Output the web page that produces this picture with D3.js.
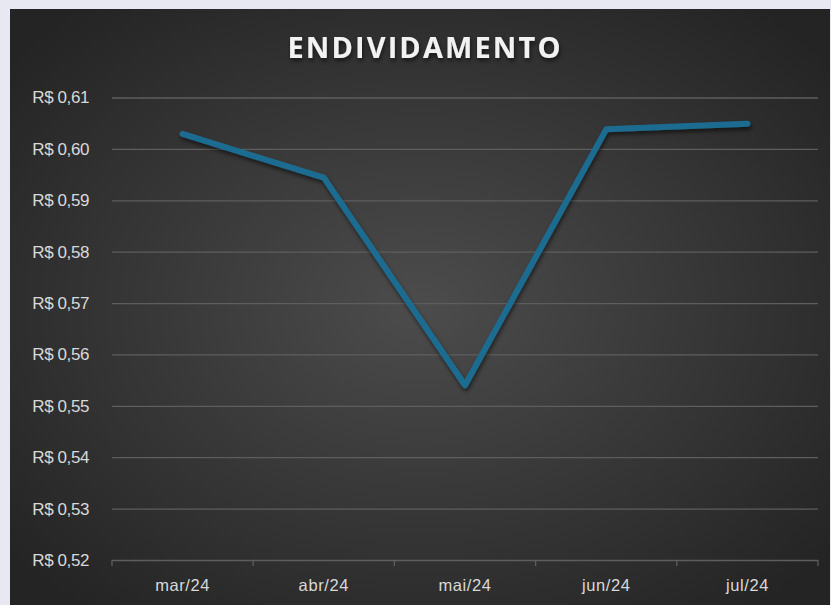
<!DOCTYPE html>
<html>
<head>
<meta charset="utf-8">
<script src="https://cdn.jsdelivr.net/npm/d3@7"></script>
<style>
  html, body { margin: 0; padding: 0; background: #e8e8f3; }
  svg { display: block; }
</style>
</head>
<body>
<div id="chart"></div>
<script>
// dados do gráfico
const meses = ["mar/24", "abr/24", "mai/24", "jun/24", "jul/24"];
const endividamento = [0.6029, 0.5944, 0.5540, 0.6038, 0.6049];
const yTicks = [0.52, 0.53, 0.54, 0.55, 0.56, 0.57, 0.58, 0.59, 0.60, 0.61];

const width = 831;
const height = 605;
const plotLeft = 112, plotRight = 818, plotTop = 97.5, plotBottom = 560;

const svg = d3.select("#chart")
  .append("svg")
  .attr("width", width)
  .attr("height", height);

const defs = svg.append("defs");
const grad = defs.append("radialGradient")
  .attr("id", "bg")
  .attr("cx", "50%").attr("cy", "50%").attr("r", "65%");
grad.append("stop").attr("offset", "0%").attr("stop-color", "#4c4c4c");
grad.append("stop").attr("offset", "100%").attr("stop-color", "#242424");

const shadow = defs.append("filter").attr("id", "sombra")
  .attr("x", "-10%").attr("y", "-10%").attr("width", "120%").attr("height", "130%");
shadow.append("feDropShadow")
  .attr("dx", 1).attr("dy", 3).attr("stdDeviation", 2)
  .attr("flood-color", "#000").attr("flood-opacity", 0.55);

// fundo do gráfico
svg.append("rect")
  .attr("x", 10).attr("y", 9)
  .attr("width", 820).attr("height", height - 9)
  .attr("fill", "url(#bg)");

// Escala X
const xScale = d3.scaleBand()
  .domain(meses)
  .range([plotLeft, plotRight]);

// Escala Y
const yScale = d3.scaleLinear()
  .domain([0.52, 0.61])
  .range([plotBottom, plotTop]);

const fmt = (v) => "R$ " + v.toFixed(2).replace(".", ",");

// linhas de grade + eixo Y
const yAxis = svg.append("g")
  .attr("transform", `translate(${plotLeft},0)`)
  .call(d3.axisLeft(yScale).tickValues(yTicks).tickFormat(fmt).tickSize(-(plotRight - plotLeft)).tickPadding(23));
yAxis.select(".domain").remove();
yAxis.selectAll(".tick line")
  .attr("stroke", "#5e5e5e")
  .attr("stroke-width", 1.3);
yAxis.selectAll(".tick text")
  .attr("fill", "#d9d9d9")
  .style("font-family", "'Liberation Sans', Arial, sans-serif")
  .style("font-size", "17px")
  .style("letter-spacing", "-0.4px");

// eixo X
const xAxis = svg.append("g")
  .attr("transform", `translate(0,${plotBottom})`)
  .call(d3.axisBottom(xScale).tickSize(0).tickPadding(19));
xAxis.select(".domain").remove();
xAxis.selectAll(".tick text")
  .attr("fill", "#d9d9d9")
  .style("font-family", "'Liberation Sans', Arial, sans-serif")
  .style("font-size", "16.5px")
  .style("letter-spacing", "0.6px");

// marcas do eixo X nas divisões
const divisoes = meses.map((m) => xScale(m)).concat([xScale(meses[meses.length - 1]) + xScale.bandwidth()]);
svg.append("g")
  .selectAll("line")
  .data(divisoes)
  .enter()
  .append("line")
  .attr("x1", (d) => d).attr("x2", (d) => d)
  .attr("y1", plotBottom).attr("y2", plotBottom + 6)
  .attr("stroke", "#5e5e5e")
  .attr("stroke-width", 1.3);

// linha da série
const linha = d3.line()
  .x((d, i) => xScale(meses[i]) + xScale.bandwidth() / 2)
  .y((d) => yScale(d));

svg.append("path")
  .datum(endividamento)
  .attr("d", linha)
  .attr("fill", "none")
  .attr("stroke", "#1d6c91")
  .attr("stroke-width", 6)
  .attr("stroke-linecap", "round")
  .attr("stroke-linejoin", "round")
  .attr("filter", "url(#sombra)");

// título
svg.append("text")
  .attr("x", 425)
  .attr("y", 58)
  .attr("text-anchor", "middle")
  .attr("fill", "#f2f2f2")
  .attr("filter", "url(#sombra)")
  .style("font-family", "'Open Sans', 'DejaVu Sans', sans-serif")
  .style("font-weight", "bold")
  .style("font-size", "29px")
  .style("letter-spacing", "2.1px")
  .text("ENDIVIDAMENTO");
</script>
</body>
</html>
